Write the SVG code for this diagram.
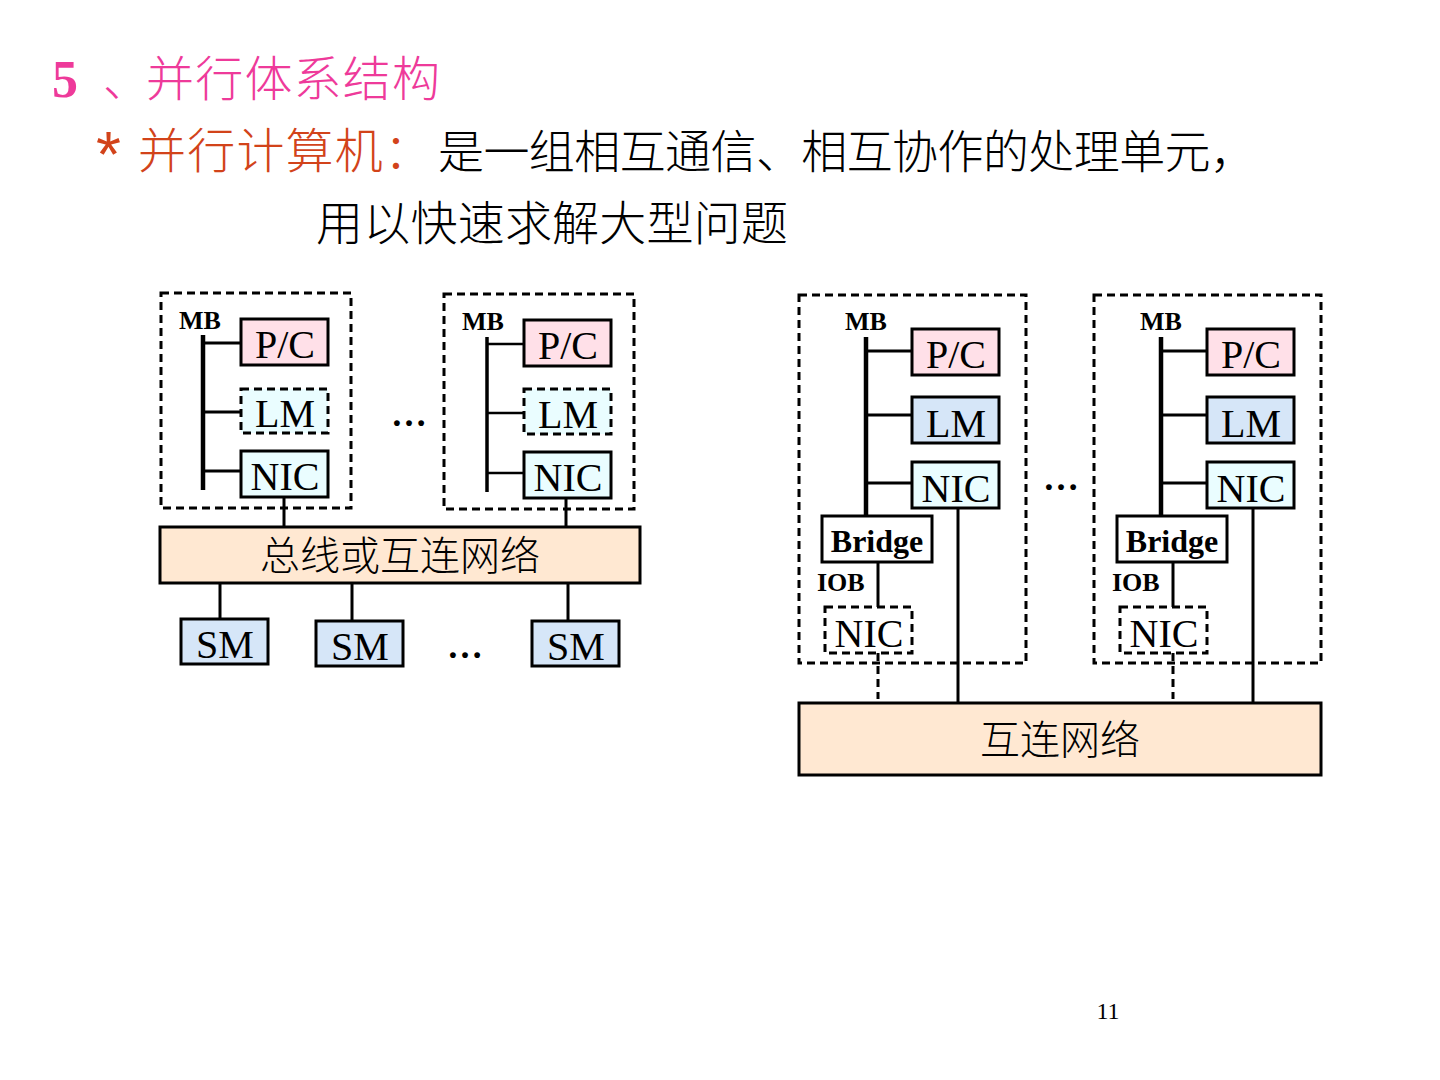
<svg xmlns="http://www.w3.org/2000/svg" width="1440" height="1080" viewBox="0 0 1440 1080">
<style>
.cjk{font-family:"Noto Sans CJK SC","Noto Sans",sans-serif;font-weight:300}
.ser{font-family:"Liberation Serif","Times New Roman",serif}
.lbl{font-family:"Liberation Serif",serif;font-size:40px;text-anchor:middle;fill:#000}
.dots{font-family:"Liberation Serif",serif;font-size:36px;font-weight:bold;text-anchor:middle;fill:#000}
.bold{font-family:"Liberation Serif",serif;font-weight:bold;fill:#000}
.box{stroke:#000;stroke-width:3}
.dbox{stroke:#000;stroke-width:3;stroke-dasharray:8 5}
.outer{fill:none;stroke:#000;stroke-width:3;stroke-dasharray:8 5}
.ln{stroke:#000;stroke-width:3;fill:none}
.dln{stroke:#000;stroke-width:3;fill:none;stroke-dasharray:8 5}
.bar{stroke:#000;stroke-width:4.5;fill:none}
.pc{fill:#FFE0E8}
.cy{fill:#EAFDFF}
.bl{fill:#D6E6F8}
.pe{fill:#FFE8D2}
.wh{fill:#FFFFFF}
</style>
<rect width="1440" height="1080" fill="#FFFFFF"/>

<g id="title">
<text x="52" y="97" class="ser" font-weight="bold" font-size="52" fill="#EE3A9A">5</text>
<text x="103" y="96" class="cjk" font-size="46" fill="#EE3A9A">、</text>
<text x="146" y="96" class="cjk" font-size="48" fill="#EE3A9A" textLength="294" lengthAdjust="spacing">并行体系结构</text>
<text x="96" y="177" font-family="Liberation Sans,sans-serif" font-size="64" fill="#D2431A">*</text>
<text x="138" y="168" class="cjk" font-size="48" fill="#D2431A" textLength="294" lengthAdjust="spacing">并行计算机：</text>
<text x="438" y="168" class="cjk" font-size="46" fill="#000" textLength="818" lengthAdjust="spacing">是一组相互通信、相互协作的处理单元，</text>
<text x="316" y="240" class="cjk" font-size="47" fill="#000" textLength="472" lengthAdjust="spacing">用以快速求解大型问题</text>
</g>

<g id="connectors">
<line class="bar" x1="203" y1="335" x2="203" y2="490"/>
<line class="ln" x1="203" y1="343" x2="241" y2="343"/>
<line class="ln" x1="203" y1="412" x2="241" y2="412"/>
<line class="ln" x1="203" y1="471" x2="241" y2="471"/>
<line class="ln" x1="284" y1="497" x2="284" y2="527"/>
<line class="bar" x1="487" y1="337" x2="487" y2="492" style="stroke-width:3.5"/>
<line class="ln" x1="487" y1="344" x2="524" y2="344" style="stroke-width:2.5"/>
<line class="ln" x1="487" y1="413" x2="524" y2="413" style="stroke-width:2.5"/>
<line class="ln" x1="487" y1="473" x2="524" y2="473" style="stroke-width:2.5"/>
<line class="ln" x1="566" y1="498" x2="566" y2="527"/>
<line class="ln" x1="220" y1="583" x2="220" y2="619"/>
<line class="ln" x1="352" y1="583" x2="352" y2="621"/>
<line class="ln" x1="568" y1="583" x2="568" y2="621"/>
<line class="bar" x1="866" y1="337" x2="866" y2="516"/>
<line class="ln" x1="866" y1="351" x2="912" y2="351"/>
<line class="ln" x1="866" y1="415" x2="912" y2="415"/>
<line class="ln" x1="866" y1="483" x2="912" y2="483"/>
<line class="ln" x1="878" y1="562" x2="878" y2="607"/>
<line class="dln" x1="878" y1="653" x2="878" y2="699"/>
<line class="ln" x1="958" y1="508" x2="958" y2="702"/>
<line class="bar" x1="1161" y1="337" x2="1161" y2="516"/>
<line class="ln" x1="1161" y1="351" x2="1207" y2="351"/>
<line class="ln" x1="1161" y1="415" x2="1207" y2="415"/>
<line class="ln" x1="1161" y1="483" x2="1207" y2="483"/>
<line class="ln" x1="1173" y1="562" x2="1173" y2="607"/>
<line class="dln" x1="1173" y1="653" x2="1173" y2="699"/>
<line class="ln" x1="1253" y1="508" x2="1253" y2="702"/>
</g>

<g id="left-node-1">
<rect class="outer" x="161" y="293" width="190" height="215"/>
<text x="179" y="329" class="bold" font-size="26">MB</text>
<rect class="box pc" x="241" y="319" width="87" height="46"/>
<text x="285" y="358" class="lbl">P/C</text>
<rect class="dbox cy" x="241" y="389" width="87" height="44"/>
<text x="285" y="427" class="lbl">LM</text>
<rect class="box cy" x="241" y="451" width="87" height="46"/>
<text x="285" y="490" class="lbl">NIC</text>
</g>

<g id="left-node-2">
<rect class="outer" x="444" y="294" width="190" height="215"/>
<text x="462" y="330" class="bold" font-size="26">MB</text>
<rect class="box pc" x="524" y="320" width="87" height="46"/>
<text x="568" y="359" class="lbl">P/C</text>
<rect class="dbox cy" x="524" y="389" width="87" height="45"/>
<text x="568" y="428" class="lbl">LM</text>
<rect class="box cy" x="524" y="452" width="87" height="46"/>
<text x="568" y="491" class="lbl">NIC</text>
</g>

<g id="ellipses">
<text x="409" y="426" class="dots">…</text>
<text x="465" y="658" class="dots">…</text>
<text x="1061" y="490" class="dots">…</text>
</g>

<g id="bus">
<rect class="box pe" x="160" y="527" width="480" height="56"/>
<text x="400" y="570" class="cjk" font-size="40" text-anchor="middle">总线或互连网络</text>
</g>

<g id="sm-1">
<rect class="box bl" x="181" y="619" width="87" height="45"/>
<text x="225" y="658" class="lbl">SM</text>
</g>
<g id="sm-2">
<rect class="box bl" x="316" y="621" width="87" height="45"/>
<text x="360" y="660" class="lbl">SM</text>
</g>
<g id="sm-3">
<rect class="box bl" x="532" y="621" width="87" height="45"/>
<text x="576" y="660" class="lbl">SM</text>
</g>

<g id="right-node-A">
<rect class="outer" x="799" y="295" width="227" height="368"/>
<text x="845" y="330" class="bold" font-size="26">MB</text>
<rect class="box pc" x="912" y="329" width="87" height="46"/>
<text x="956" y="368" class="lbl">P/C</text>
<rect class="box bl" x="912" y="397" width="87" height="46"/>
<text x="956" y="437" class="lbl">LM</text>
<rect class="box cy" x="912" y="462" width="87" height="46"/>
<text x="956" y="502" class="lbl">NIC</text>
<rect class="box wh" x="822" y="516" width="110" height="46"/>
<text x="877" y="552" class="bold" font-size="32" text-anchor="middle">Bridge</text>
<text x="817" y="591" class="bold" font-size="26">IOB</text>
<rect class="dbox wh" x="825" y="607" width="87" height="46"/>
<text x="869" y="647" class="lbl">NIC</text>
</g>

<g id="right-node-B">
<rect class="outer" x="1094" y="295" width="227" height="368"/>
<text x="1140" y="330" class="bold" font-size="26">MB</text>
<rect class="box pc" x="1207" y="329" width="87" height="46"/>
<text x="1251" y="368" class="lbl">P/C</text>
<rect class="box bl" x="1207" y="397" width="87" height="46"/>
<text x="1251" y="437" class="lbl">LM</text>
<rect class="box cy" x="1207" y="462" width="87" height="46"/>
<text x="1251" y="502" class="lbl">NIC</text>
<rect class="box wh" x="1117" y="516" width="110" height="46"/>
<text x="1172" y="552" class="bold" font-size="32" text-anchor="middle">Bridge</text>
<text x="1112" y="591" class="bold" font-size="26">IOB</text>
<rect class="dbox wh" x="1120" y="607" width="87" height="46"/>
<text x="1164" y="647" class="lbl">NIC</text>
</g>

<g id="interconnect">
<rect class="box pe" x="799" y="703" width="522" height="72"/>
<text x="1060" y="754" class="cjk" font-size="40" text-anchor="middle">互连网络</text>
</g>

<text x="1108" y="1019" class="ser" font-size="24" text-anchor="middle">11</text>
</svg>
